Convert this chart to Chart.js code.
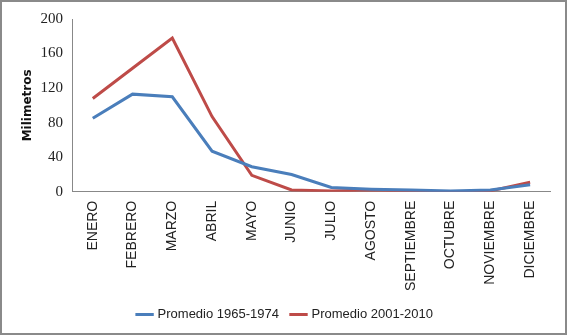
<!DOCTYPE html>
<html><head><meta charset="utf-8">
<script src="https://cdn.jsdelivr.net/npm/chart.js@4"></script>
<style>
html,body{margin:0;padding:0;background:#fff;}
#wrap{width:567px;height:335px;box-sizing:border-box;border:2px solid #8a8a8a;position:relative;}
</style></head><body>
<div id="wrap"><canvas id="c"></canvas></div>
<script>
const categories = ["ENERO","FEBRERO","MARZO","ABRIL","MAYO","JUNIO","JULIO","AGOSTO","SEPTIEMBRE","OCTUBRE","NOVIEMBRE","DICIEMBRE"];
const serie1965 = [85,113,110,47,29,20,5,3,2,1,2,8];
const serie2001 = [108,143,178,87,19,2,1,2,1,0,1,11];
const yTicks = [0,40,80,120,160,200];

new Chart(document.getElementById('c'), {
  type: 'line',
  data: {
    labels: categories,
    datasets: [
      {label:'Promedio 1965-1974', data: serie1965, borderColor:'#4a7ebb', backgroundColor:'#4a7ebb', borderWidth:3, pointRadius:0, tension:0},
      {label:'Promedio 2001-2010', data: serie2001, borderColor:'#be4b48', backgroundColor:'#be4b48', borderWidth:3, pointRadius:0, tension:0}
    ]
  },
  options: {
    responsive:true, maintainAspectRatio:false, animation:false,
    layout:{padding:{left:19,right:15,top:17,bottom:2}},
    plugins:{
      legend:{position:'bottom', labels:{usePointStyle:true, pointStyle:'line', boxWidth:40, font:{family:'Liberation Sans', size:13}, color:'#222', padding:13}},
      tooltip:{enabled:false}
    },
    scales:{
      x:{offset:true, grid:{display:false, drawTicks:true, tickLength:5}, border:{color:'#888'},
        ticks:{minRotation:90, maxRotation:90, autoSkip:false, padding:4, font:{family:'Liberation Sans', size:14}, color:'#222'}},
      y:{min:0,max:200, afterBuildTicks:(a)=>{a.ticks=yTicks.map(v=>({value:v}));},
        grid:{display:false, drawTicks:true, tickLength:5}, border:{color:'#888'},
        ticks:{font:{family:'Liberation Serif', size:15}, color:'#222', padding:5},
        title:{display:true, text:'Milimetros', font:{family:'DejaVu Sans', size:12, weight:'bold'}, color:'#111', padding:{top:0,bottom:0}}}
    }
  }
});
</script></body></html>
